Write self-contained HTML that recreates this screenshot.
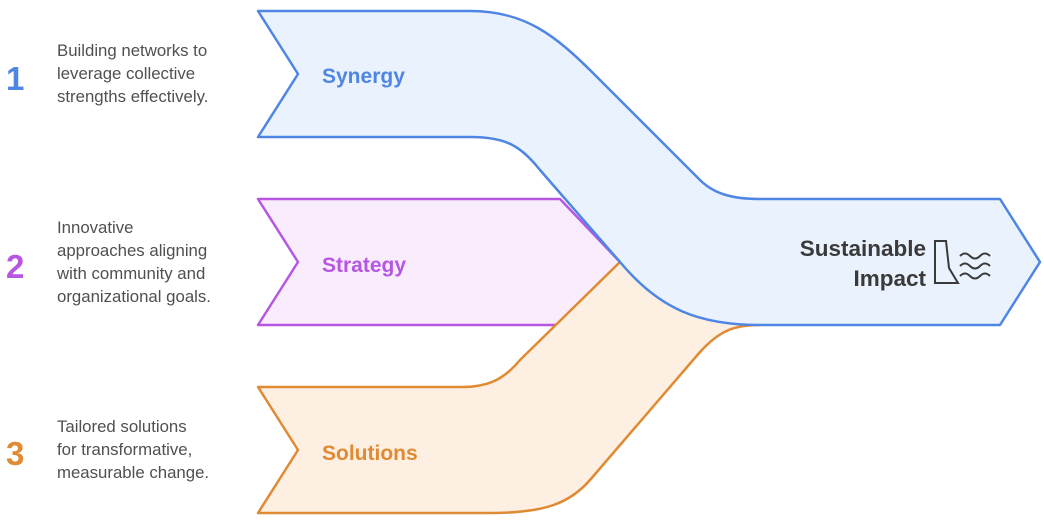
<!DOCTYPE html>
<html><head><meta charset="utf-8"><style>
body{margin:0;background:#fff;width:1044px;height:520px;overflow:hidden;font-family:"Liberation Sans",sans-serif}
</style></head><body>
<svg width="1044" height="520" viewBox="0 0 1044 520" xmlns="http://www.w3.org/2000/svg" style="position:absolute;left:0;top:0">
<g stroke-width="2.5" stroke-linejoin="round">
<path d="M258,199 L560,199 L620,262 L560,325 L258,325 L298,262 Z" fill="#f9edfd" stroke="#b656e2"/>
<path d="M258,387 L462,387 C490,387 505,378 520,360 L620,262 C660,300 700,325 760,325 C735,325 720,330 700,352 L590,480 C570,503 545,513 490,513 L258,513 L298,450 Z" fill="#fdefe1" stroke="#e08a34"/>
<path d="M258,11 L470,11 C525,11 555,35 595,75 L700,180 C715,195 735,199 760,199 L1000,199 L1040,262 L1000,325 L760,325 C700,325 660,310 620,262 L540,170 C520,145 505,137 470,137 L258,137 L298,74 Z" fill="#eaf2fd" stroke="#4f86e6"/>
</g>
<g font-weight="bold" font-size="21">
<text x="322" y="83" fill="#4f86e6">Synergy</text>
<text x="322" y="272" fill="#b656e2">Strategy</text>
<text x="322" y="460" fill="#e08a34">Solutions</text>
</g>
<g font-weight="bold" font-size="22.5" fill="#3a3a3a" text-anchor="end">
<text x="926" y="256">Sustainable</text>
<text x="926" y="286">Impact</text>
</g>
<g fill="none" stroke="#3a3a3a" stroke-width="2">
<path d="M935,241 L946,241 L949,268 L958,283 L935,283 Z"/>
<path d="M960,256 q5,-5 10,0 t10,0 t10,0"/>
<path d="M960,266 q5,-5 10,0 t10,0 t10,0"/>
<path d="M960,276 q5,-5 10,0 t10,0 t10,0"/>
</g>
<g font-weight="bold" font-size="33">
<text x="6" y="90" fill="#4f86e6">1</text>
<text x="6" y="278" fill="#b656e2">2</text>
<text x="6" y="465" fill="#e08a34">3</text>
</g>
<g font-size="16.8" fill="#505050">
<text x="57" y="56">Building networks to</text>
<text x="57" y="79">leverage collective</text>
<text x="57" y="102">strengths effectively.</text>
<text x="57" y="233">Innovative</text>
<text x="57" y="256">approaches aligning</text>
<text x="57" y="279">with community and</text>
<text x="57" y="302">organizational goals.</text>
<text x="57" y="432">Tailored solutions</text>
<text x="57" y="455">for transformative,</text>
<text x="57" y="478">measurable change.</text>
</g>
</svg>
</body></html>
